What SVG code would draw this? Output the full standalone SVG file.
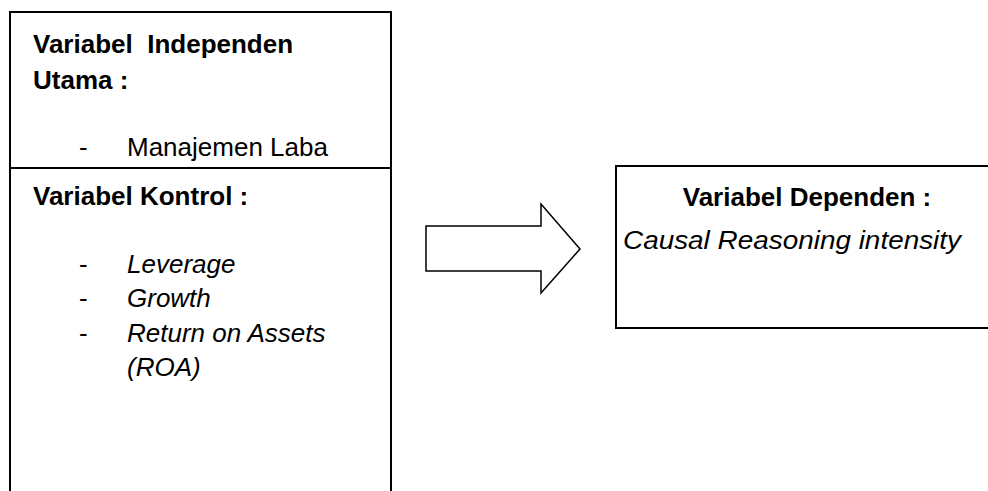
<svg xmlns="http://www.w3.org/2000/svg" width="988" height="491" viewBox="0 0 988 491">
<style>
text{font-family:"Liberation Sans",Arial,sans-serif;font-size:26px;fill:#000;white-space:pre}
.b{font-weight:bold}
.i{font-style:italic}
.box{fill:none;stroke:#000;stroke-width:2}
.arrow{fill:#fff;stroke:#000;stroke-width:1.5;stroke-linejoin:miter}
</style>
<rect width="988" height="491" fill="#fff"/>
<g id="independen">
<path class="box" d="M10,495 V12 H391 V495"/>
<text class="b" x="33" y="53" xml:space="preserve">Variabel  Independen</text>
<text class="b" x="33" y="89">Utama :</text>
<text x="79" y="156">-</text>
<text x="127" y="156">Manajemen Laba</text>
</g>
<g id="kontrol">
<line class="box" x1="10" y1="168" x2="391" y2="168"/>
<text class="b" x="33" y="205">Variabel Kontrol :</text>
<text x="79" y="273">-</text>
<text class="i" x="127" y="273">Leverage</text>
<text x="79" y="307">-</text>
<text class="i" x="127" y="307">Growth</text>
<text x="79" y="342">-</text>
<text class="i" x="127" y="342">Return on Assets</text>
<text class="i" x="127" y="376">(ROA)</text>
</g>
<g id="connectors">
<polygon class="arrow" points="426,226 541,226 541,204 580,249 541,293 541,271 426,271"/>
</g>
<g id="dependen">
<path class="box" d="M990,166 H616 V328 H990"/>
<text class="b" x="807" y="206" text-anchor="middle">Variabel Dependen :</text>
<text class="i" x="623" y="249" textLength="338" lengthAdjust="spacingAndGlyphs">Causal Reasoning intensity</text>
</g>
</svg>
